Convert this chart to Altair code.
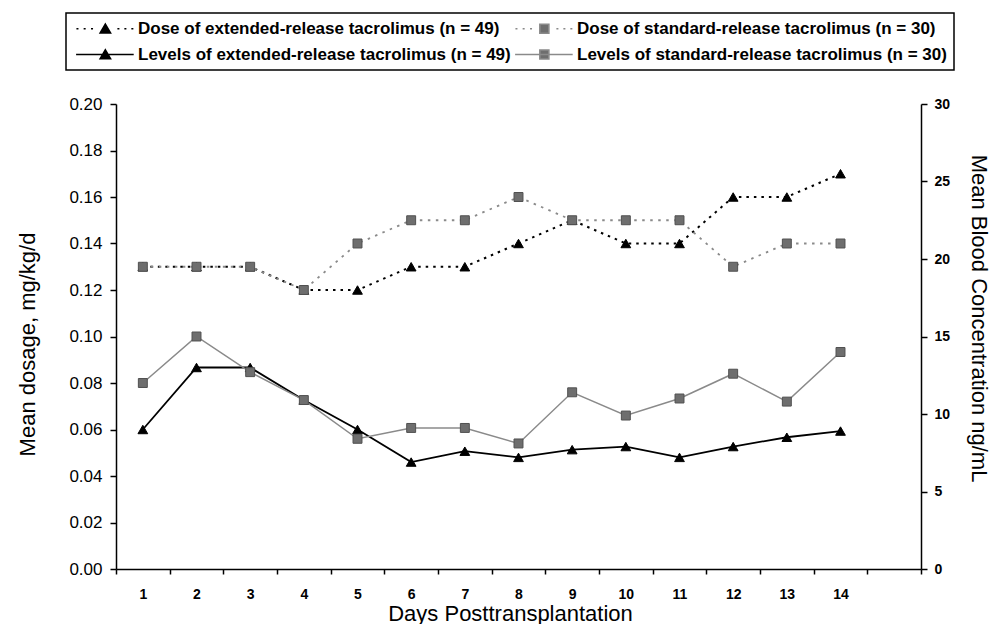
import altair as alt
import pandas as pd

# ---------------- data ----------------
days = [1, 2, 3, 4, 5, 6, 7, 8, 9, 10, 11, 12, 13, 14]
slots = days + [15]  # empty slot at the right end of the axis

dose_ext = [0.13, 0.13, 0.13, 0.12, 0.12, 0.13, 0.13, 0.14, 0.15, 0.14, 0.14, 0.16, 0.16, 0.17]
dose_std = [0.13, 0.13, 0.13, 0.12, 0.14, 0.15, 0.15, 0.16, 0.15, 0.15, 0.15, 0.13, 0.14, 0.14]
lvl_ext = [9.0, 13.0, 13.0, 10.9, 9.0, 6.9, 7.6, 7.2, 7.7, 7.9, 7.2, 7.9, 8.5, 8.9]
lvl_std = [12.0, 15.0, 12.7, 10.9, 8.4, 9.1, 9.1, 8.1, 11.4, 9.9, 11.0, 12.6, 10.8, 14.0]

# legend entries, listed column by column (left column first)
series_names = [
    "Dose of extended-release tacrolimus (n = 49)",
    "Levels of extended-release tacrolimus (n = 49)",
    "Dose of standard-release tacrolimus (n = 30)",
    "Levels of standard-release tacrolimus (n = 30)",
]
dose_ticks = [0.00, 0.02, 0.04, 0.06, 0.08, 0.10, 0.12, 0.14, 0.16, 0.18, 0.20]
level_ticks = [0, 5, 10, 15, 20, 25, 30]

FONT = "Liberation Sans"
BLACK = "#000000"
GRAY_LINE = "#8a8a8a"
GRAY_FILL = "#6e6e6e"
GRAY_EDGE = "#505050"


def frame(vals):
    return pd.DataFrame({"day": days, "value": vals})


x_enc = alt.X(
    "day:O",
    bandPosition=0.5,
    scale=alt.Scale(type="band", domain=slots, paddingInner=0, paddingOuter=0),
    axis=alt.Axis(
        title="Days Posttransplantation", labelAngle=0, tickBand="extent",
        labelExpr=f"datum.value > {days[-1]} ? '' : datum.label",
        labelFont=FONT, labelFontSize=14, labelFontWeight="bold", labelColor=BLACK,
        labelPadding=13, tickSize=5, tickWidth=1.5, tickColor=BLACK,
        domainColor=BLACK, domainWidth=1.5,
        titleFont=FONT, titleFontSize=22, titleFontWeight="normal", titleColor=BLACK,
        titleX=394, titleY=51, titleBaseline="alphabetic",
    ),
)

y_left = alt.Y(
    "value:Q",
    scale=alt.Scale(domain=[0, 0.2], nice=False),
    axis=alt.Axis(
        orient="left", values=dose_ticks, format=".2f", title="Mean dosage, mg/kg/d",
        labelFont=FONT, labelFontSize=17, labelColor=BLACK, labelPadding=8,
        tickSize=6, tickWidth=1.5, tickColor=BLACK, domainColor=BLACK, domainWidth=1.5,
        titleFont=FONT, titleFontSize=22, titleFontWeight="normal", titleColor=BLACK,
        titleX=-89, titleY=240, titleBaseline="middle",
    ),
)

y_right = alt.Y(
    "value:Q",
    scale=alt.Scale(domain=[0, 30], nice=False),
    axis=alt.Axis(
        orient="right", values=level_ticks, format="d", title="Mean Blood Concentration ng/mL",
        labelFont=FONT, labelFontSize=14, labelFontWeight="bold", labelColor=BLACK, labelPadding=7,
        tickSize=6, tickWidth=1.5, tickColor=BLACK, domainColor=BLACK, domainWidth=1.5,
        titleFont=FONT, titleFontSize=22, titleFontWeight="normal", titleColor=BLACK,
        titleX=57, titleY=214, titleBaseline="middle",
    ),
)


def series_layers(vals, y_enc, line_color, dash, line_width, shape, fill, edge, size):
    base = alt.Chart(frame(vals))
    line_kw = dict(color=line_color, strokeWidth=line_width)
    if dash:
        line_kw["strokeDash"] = dash
    line = base.mark_line(**line_kw).encode(x=x_enc, y=y_enc)
    pts = base.mark_point(shape=shape, filled=True, fill=fill, stroke=edge, strokeWidth=1,
                          size=size, opacity=1).encode(x=x_enc, y=y_enc)
    return [line, pts]


dose_group = alt.layer(
    *series_layers(dose_ext, y_left, BLACK, [2.5, 5], 2, "triangle-up", BLACK, BLACK, 95),
    *series_layers(dose_std, y_left, GRAY_LINE, [2.5, 5.5], 1.8, "square", GRAY_FILL, GRAY_EDGE, 80),
)
level_group = alt.layer(
    *series_layers(lvl_ext, y_right, BLACK, None, 1.8, "triangle-up", BLACK, BLACK, 95),
    *series_layers(lvl_std, y_right, GRAY_LINE, None, 1.5, "square", GRAY_FILL, GRAY_EDGE, 80),
)

# ---------------- legend (line + marker symbols, drawn to the right of the anchor) ----------------
MC = 5.3  # marker centre within the symbol path (path units)
TRI = f"M{MC:.2f},-1.05L{MC + 1.15:.2f},0.95L{MC - 1.15:.2f},0.95Z"
SQ = f"M{MC - 1:.2f},-1H{MC + 1:.2f}V1H{MC - 1:.2f}Z"
DOTS = "".join(f"M{MC + d - 0.225:.3f},0h0.45" for d in [-6.2, -4.6, -2.96, 2.9, 4.45, 6.0])
SOLID = f"M{MC - 6.5:.2f},0H{MC + 6.3:.2f}"
legend_shapes = [DOTS + TRI, SOLID + TRI, DOTS + SQ, SOLID + SQ]
legend_fills = [BLACK, BLACK, GRAY_FILL, GRAY_FILL]
legend_strokes = [BLACK, BLACK, GRAY_LINE, GRAY_LINE]

leg = alt.Legend(
    title=None, orient="none", legendX=-50, legendY=-91, columns=2,
    columnPadding=0, rowPadding=8, padding=7,
    strokeColor=BLACK, fillColor="white",
    labelFont=FONT, labelFontSize=17, labelFontWeight="bold", labelColor=BLACK,
    labelLimit=600, labelOffset=48, symbolSize=81, symbolStrokeWidth=1.6, symbolOpacity=1,
)

legend_layer = (
    alt.Chart(pd.DataFrame({"series": series_names}))
    .transform_filter("false")
    .mark_point(filled=True, size=81, opacity=1, strokeWidth=1.6)
    .encode(
        shape=alt.Shape("series:N", sort=None, scale=alt.Scale(domain=series_names, range=legend_shapes), legend=leg),
        fill=alt.Fill("series:N", sort=None, scale=alt.Scale(domain=series_names, range=legend_fills), legend=leg),
        stroke=alt.Stroke("series:N", sort=None, scale=alt.Scale(domain=series_names, range=legend_strokes), legend=leg),
    )
)

chart = (
    alt.layer(dose_group, level_group, legend_layer)
    .resolve_scale(y="independent")
    .properties(
        width=805, height=465,
        padding={"left": 108, "top": 96, "right": 71, "bottom": 55},
        autosize=alt.AutoSizeParams(type="none"),
        background="white",
    )
    .configure_view(stroke=None)
    .configure_axis(grid=False)
    .configure_legend(strokeColor=BLACK, strokeWidth=1.5, fillColor="white")
)

chart.save("out.html", embed_options={"renderer": "svg", "actions": False})
